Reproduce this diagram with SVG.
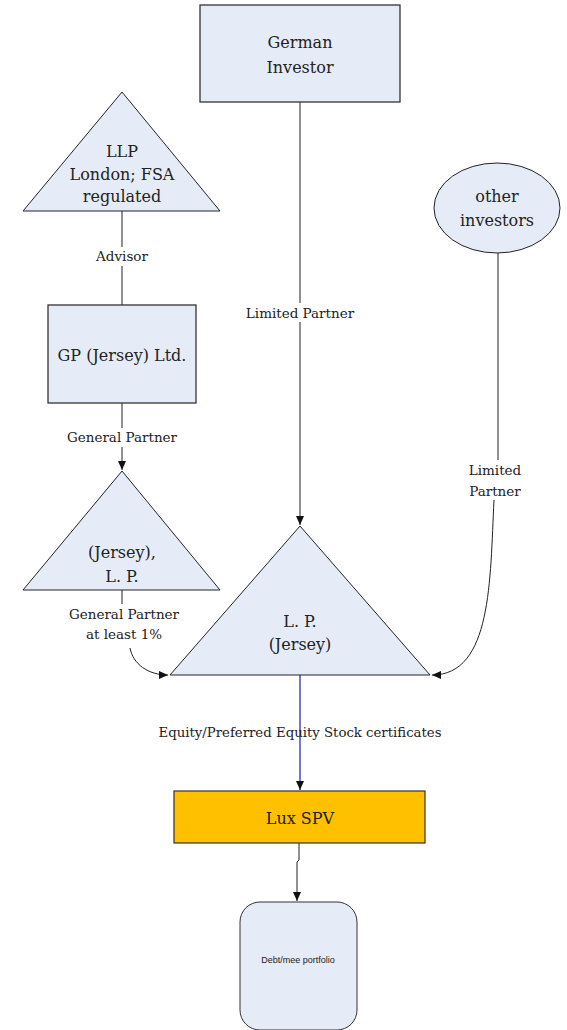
<svg xmlns="http://www.w3.org/2000/svg" width="567" height="1030" viewBox="0 0 567 1030">
<style>
.node{fill:#e6ecf7;stroke:#222;stroke-width:1}
.box{fill:#e6ecf7;stroke:#333;stroke-width:1.3}
text.t{font-family:"DejaVu Serif","Liberation Serif",serif;fill:#222;text-anchor:middle}
text.big{font-size:16px}
text.lbl{font-size:13.5px}
.c{fill:none;stroke:#222;stroke-width:1}
.bg{fill:#fff;stroke:none}
</style>
<defs>
<marker id="a" markerWidth="10" markerHeight="10" refX="9" refY="5" orient="auto" markerUnits="userSpaceOnUse">
<path d="M0,1 L9,5 L0,9 Z" fill="#111"/>
</marker>
</defs>
<rect width="567" height="1030" fill="#fff"/>
<g id="connectors">
<path class="c" d="M122,211 V305"/>
<path class="c" d="M122,403 V470" marker-end="url(#a)"/>
<path class="c" d="M300,102 V525" marker-end="url(#a)"/>
<path class="c" d="M122,590 V612 M130,648 C133,664 148,675 168,675" marker-end="url(#a)"/>
<path class="c" d="M498,253 V462 M494,500 C490,580 492,675 432,675" marker-end="url(#a)"/>
<path d="M300,675 V790" fill="none" stroke="#1a1aa8" stroke-width="1.2" marker-end="url(#a)"/>
<path class="c" d="M299,843 V860 L297,862 V901" marker-end="url(#a)"/>
<rect class="bg" x="90" y="247" width="64" height="19"/>
<text class="t lbl" x="122" y="261">Advisor</text>
<rect class="bg" x="66" y="428" width="112" height="19"/>
<text class="t lbl" x="122" y="442">General Partner</text>
<rect class="bg" x="244" y="303" width="112" height="19"/>
<text class="t lbl" x="300" y="318">Limited Partner</text>
<rect class="bg" x="64" y="604" width="118" height="40"/>
<text class="t lbl" x="124" y="619">General Partner</text>
<text class="t lbl" x="124" y="639">at least 1%</text>
<rect class="bg" x="466" y="460" width="60" height="40"/>
<text class="t lbl" x="495" y="475">Limited</text>
<text class="t lbl" x="495" y="496">Partner</text>
<text class="t lbl" x="300" y="737" textLength="283" lengthAdjust="spacingAndGlyphs">Equity/Preferred Equity Stock certificates</text>
</g>
<g id="german-investor">
<rect class="box" x="200" y="5" width="200" height="97"/>
<text class="t big" x="300" y="48">German</text>
<text class="t big" x="300" y="73">Investor</text>
</g>
<g id="llp">
<path class="node" d="M122,92 L220,211 L23,211 Z"/>
<text class="t big" x="122" y="157">LLP</text>
<text class="t big" x="122" y="180">London; FSA</text>
<text class="t big" x="122" y="202">regulated</text>
</g>
<g id="other-investors">
<ellipse class="node" cx="497" cy="208" rx="63" ry="45"/>
<text class="t big" x="497" y="202">other</text>
<text class="t big" x="497" y="226">investors</text>
</g>
<g id="gp-jersey">
<rect class="box" x="48" y="305" width="148" height="98"/>
<text class="t big" x="122" y="361">GP (Jersey) Ltd.</text>
</g>
<g id="jersey-lp">
<path class="node" d="M122,471 L220,590 L23,590 Z"/>
<text class="t big" x="122" y="558">(Jersey),</text>
<text class="t big" x="122" y="582">L. P.</text>
</g>
<g id="lp-jersey">
<path class="node" d="M300,526 L430,675 L170,675 Z"/>
<text class="t big" x="300" y="627">L. P.</text>
<text class="t big" x="300" y="650">(Jersey)</text>
</g>
<g id="lux-spv">
<rect x="174" y="791" width="251" height="52" fill="#ffc000" stroke="#333" stroke-width="1.2"/>
<text class="t big" x="300" y="824">Lux SPV</text>
</g>
<g id="debt">
<rect x="240" y="902" width="117" height="128" rx="20" ry="20" fill="#e6ecf7" stroke="#333" stroke-width="1"/>
<text x="298" y="963" font-family="Liberation Sans, Arial, sans-serif" font-size="9" fill="#222" text-anchor="middle">Debt/mee portfolio</text>
</g>
</svg>
